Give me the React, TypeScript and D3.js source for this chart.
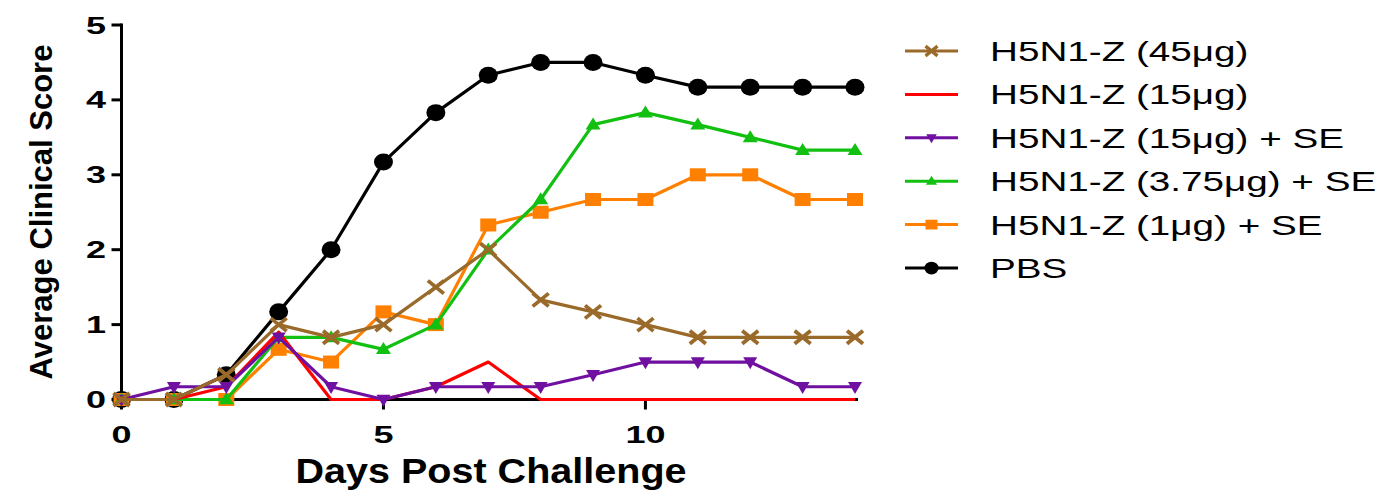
import React from "react";
import * as d3 from "d3";

const days = [0, 1, 2, 3, 4, 5, 6, 7, 8, 9, 10, 11, 12, 13, 14];
const seriesNames = [
  "H5N1-Z (45μg)",
  "H5N1-Z (15μg)",
  "H5N1-Z (15μg) + SE",
  "H5N1-Z (3.75μg) + SE",
  "H5N1-Z (1μg) + SE",
  "PBS",
];
const s45 = [0, 0, 0.33, 1.0, 0.83, 1.0, 1.5, 2.0, 1.33, 1.17, 1.0, 0.83, 0.83, 0.83, 0.83];
const s15 = [0, 0, 0.17, 0.9, 0, 0, 0.17, 0.5, 0, 0, 0, 0, 0, 0, 0];
const s15se = [0, 0.17, 0.17, 0.83, 0.17, 0, 0.17, 0.17, 0.17, 0.33, 0.5, 0.5, 0.5, 0.17, 0.17];
const s375se = [0, 0, 0, 0.83, 0.83, 0.67, 1.0, 2.0, 2.67, 3.67, 3.83, 3.67, 3.5, 3.33, 3.33];
const s1se = [0, 0, 0, 0.67, 0.5, 1.17, 1.0, 2.33, 2.5, 2.67, 2.67, 3.0, 3.0, 2.67, 2.67];
const sPBS = [0, 0, 0.33, 1.17, 2.0, 3.17, 3.83, 4.33, 4.5, 4.5, 4.33, 4.17, 4.17, 4.17, 4.17];
const xTicks = [0, 5, 10];
const yTicks = [0, 1, 2, 3, 4, 5];

const colors = ["#9A6A2A", "#FF0000", "#7010A0", "#12C012", "#FF8000", "#000000"];
const markers = ["x", "none", "tridown", "triup", "square", "circle"];
const allValues = [s45, s15, s15se, s375se, s1se, sPBS];
const drawOrder = [5, 4, 3, 1, 2, 0];

const FONT = "'Liberation Sans', Arial, sans-serif";

function Marker({ type, cx, cy, color, k = 1 }: { type: string; cx: number; cy: number; color: string; k?: number }) {
  if (type === "x") {
    const rx = 8 * k, ry = 6.5 * k;
    return (
      <g stroke={color} strokeWidth={3.8 * Math.min(1, k + 0.1)}>
        <line x1={cx - rx} y1={cy - ry} x2={cx + rx} y2={cy + ry} />
        <line x1={cx - rx} y1={cy + ry} x2={cx + rx} y2={cy - ry} />
      </g>
    );
  }
  if (type === "tridown") {
    const w = 7 * k, h = 12 * k;
    return <path d={`M${cx - w},${cy - h * 0.4} L${cx + w},${cy - h * 0.4} L${cx},${cy + h * 0.6} Z`} fill={color} />;
  }
  if (type === "triup") {
    const w = 7.5 * k, h = 12 * k;
    return <path d={`M${cx - w},${cy + h * 0.4} L${cx + w},${cy + h * 0.4} L${cx},${cy - h * 0.6} Z`} fill={color} />;
  }
  if (type === "square") {
    const w = 8 * k, h = 6.5 * k;
    return <rect x={cx - w} y={cy - h} width={2 * w} height={2 * h} fill={color} />;
  }
  if (type === "circle") {
    return <ellipse cx={cx} cy={cy} rx={9.5 * k} ry={8.5 * k} fill={color} />;
  }
  return null;
}

export default function App() {
  const W = 1389;
  const H = 493;
  const x = d3.scaleLinear().domain([0, 14]).range([121.5, 855]);
  const y = d3.scaleLinear().domain([0, 5]).range([399.5, 25]);
  const line = d3
    .line<number>()
    .x((_, i) => x(days[i]))
    .y((d) => y(d));

  const legendY0 = 51;
  const legendDY = 43.4;

  return (
    <svg width={W} height={H} style={{ position: "absolute", left: 0, top: 0 }} fontFamily={FONT}>
      <rect width={W} height={H} fill="#fff" />
      {/* axes */}
      <g stroke="#000" strokeWidth={3}>
        <line x1={x(0)} y1={y(0)} x2={x(0)} y2={y(5) - 1.5} />
        <line x1={x(0) - 1.5} y1={y(0)} x2={x(14) + 3} y2={y(0)} />
        {yTicks.map((t) => (
          <line key={"yt" + t} x1={x(0) - 10} y1={y(t)} x2={x(0)} y2={y(t)} />
        ))}
        {xTicks.map((t) => (
          <line key={"xt" + t} x1={x(t)} y1={y(0)} x2={x(t)} y2={y(0) + 10} />
        ))}
      </g>
      {yTicks.map((t) => (
        <text
          key={"yl" + t}
          transform={`translate(106, ${y(t) + 8.5}) scale(1.5, 1)`}
          textAnchor="end"
          fontSize={24}
          fontWeight="bold"
        >
          {t}
        </text>
      ))}
      {xTicks.map((t) => (
        <text
          key={"xl" + t}
          transform={`translate(${x(t)}, 443) scale(1.5, 1)`}
          textAnchor="middle"
          fontSize={24}
          fontWeight="bold"
        >
          {t}
        </text>
      ))}
      <text
        transform={`translate(491, 483) scale(1.13, 1)`}
        textAnchor="middle"
        fontSize={35}
        fontWeight="bold"
      >
        Days Post Challenge
      </text>
      <text
        transform={`translate(52, 212) rotate(-90)`}
        textAnchor="middle"
        fontSize={31}
        fontWeight="bold"
      >
        Average Clinical Score
      </text>
      {/* series */}
      {drawOrder.map((si) => (
        <g key={"s" + si}>
          <path d={line(allValues[si]) || ""} fill="none" stroke={colors[si]} strokeWidth={3.2} strokeLinejoin="round" />
          {allValues[si].map((v, i) => (
            <Marker key={i} type={markers[si]} cx={x(days[i])} cy={y(v)} color={colors[si]} />
          ))}
        </g>
      ))}
      {/* legend */}
      {seriesNames.map((name, i) => {
        const ly = legendY0 + i * legendDY;
        return (
          <g key={"lg" + i}>
            <line x1={905} y1={ly} x2={958} y2={ly} stroke={colors[i]} strokeWidth={3} />
            <Marker type={markers[i]} cx={931.5} cy={ly} color={colors[i]} k={0.75} />
            <text transform={`translate(990, ${ly + 10}) scale(1.38, 1)`} fontSize={28}>
              {name}
            </text>
          </g>
        );
      })}
    </svg>
  );
}
